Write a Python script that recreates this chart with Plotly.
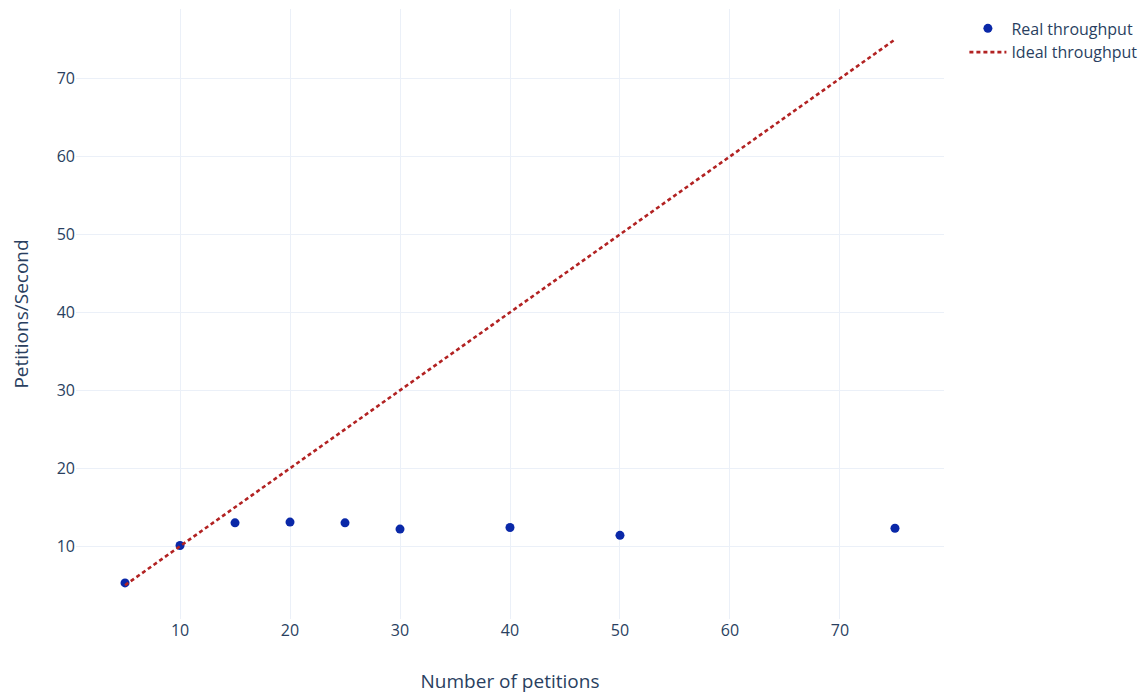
import plotly.graph_objects as go

petitions = [5, 10, 15, 20, 25, 30, 40, 50, 75]
real_throughput = [5.3, 10.1, 13.0, 13.1, 13.0, 12.2, 12.4, 11.4, 12.3]
ideal_throughput = [5, 10, 15, 20, 25, 30, 40, 50, 75]

fig = go.Figure()
fig.add_trace(go.Scatter(
    x=petitions, y=real_throughput, mode="markers", name="Real throughput",
    marker=dict(color="#0a28a8", size=9),
))
fig.add_trace(go.Scatter(
    x=petitions, y=ideal_throughput, mode="lines", name="Ideal throughput",
    line=dict(color="firebrick", dash="4px,3px", width=2.6),
))
fig.update_layout(
    template="plotly_white",
    width=1148, height=695,
    margin=dict(l=68, r=212, t=1, b=84),
    font=dict(family="Open Sans", size=16, color="#2a3f5f"),
    xaxis=dict(title=dict(text="Number of petitions", standoff=34), automargin=False),
    yaxis=dict(title=dict(text="Petitions/Second", standoff=39), automargin=False),
    legend=dict(itemwidth=37, x=1.0235, y=0.996, yanchor="top"),
)
fig.write_html("out.html")
